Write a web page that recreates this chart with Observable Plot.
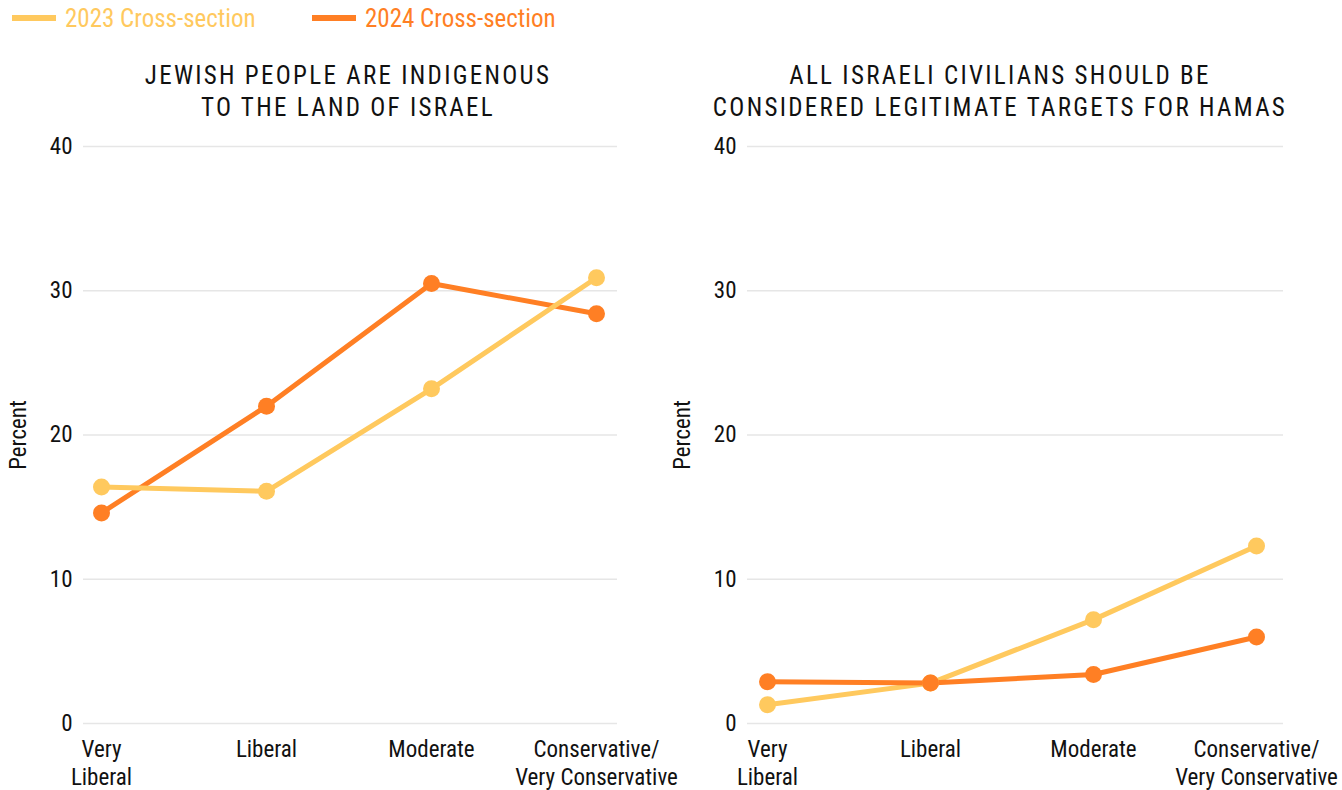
<!DOCTYPE html>
<html>
<head>
<meta charset="utf-8">
<script src="https://cdn.jsdelivr.net/npm/d3@7"></script>
<script src="https://cdn.jsdelivr.net/npm/@observablehq/plot@0.6"></script>
<style>
  html, body { margin: 0; padding: 0; background: #fff; }
  body { width: 1342px; height: 790px; position: relative; overflow: hidden;
         font-family: "Roboto Condensed", Roboto, sans-serif; font-stretch: 75%; color: #111; }
  .legend-item { position: absolute; top: 0; height: 36px; display: flex; align-items: center; font-size: 25px; }
  .swatch { width: 44px; height: 6px; margin-right: 9px; }
  .title { position: absolute; top: 60px; width: 700px; text-align: center; font-size: 25px;
           line-height: 32px; letter-spacing: 2.3px; text-transform: uppercase; color: #111; }
  .chart { position: absolute; top: 130px; }
</style>
</head>
<body>
<div id="root"></div>
<script>
// ---- data ----
const categories = ["Very Liberal", "Liberal", "Moderate", "Conservative/Very Conservative"];
const tickLabels = ["Very\nLiberal", "Liberal", "Moderate", "Conservative/\nVery Conservative"];
const seriesNames = ["2023 Cross-section", "2024 Cross-section"];
const seriesColors = ["#FFC95E", "#FF7F24"];
const panelTitles = ["Jewish people are indigenous\nto the land of Israel",
                     "All Israeli civilians should be\nconsidered legitimate targets for Hamas"];
const indigenous2023 = [16.4, 16.1, 23.2, 30.9];
const indigenous2024 = [14.6, 22.0, 30.5, 28.4];
const targets2023 = [1.3, 2.8, 7.2, 12.3];
const targets2024 = [2.9, 2.8, 3.4, 6.0];
const yTicks = [0, 10, 20, 30, 40];
const yLabel = "Percent";

// ---- layout ----
const FONT = '"Roboto Condensed", Roboto, sans-serif';
const root = document.getElementById("root");

// legend
const legendX = [12, 312];
seriesNames.forEach((s, i) => {
  const item = document.createElement("div");
  item.className = "legend-item";
  item.style.left = legendX[i] + "px";
  item.style.color = seriesColors[i];
  const sw = document.createElement("div");
  sw.className = "swatch";
  sw.style.background = seriesColors[i];
  item.appendChild(sw);
  const t = document.createElement("span");
  t.textContent = s;
  item.appendChild(t);
  root.appendChild(item);
});

const panels = [
  {title: panelTitles[0], values: [indigenous2023, indigenous2024], left: 0, marginRight: 54,
   insetLeft: 17, insetRight: 21, titleCenter: 348, order: [1, 0]},
  {title: panelTitles[1], values: [targets2023, targets2024], left: 664, marginRight: 52,
   insetLeft: 19, insetRight: 27, titleCenter: 1000, order: [0, 1]}
];

panels.forEach(p => {
  const title = document.createElement("div");
  title.className = "title";
  title.style.left = (p.titleCenter - 350) + "px";
  title.innerHTML = p.title.split("\n").join("<br>");
  root.appendChild(title);

  const rows = [];
  p.values.forEach((vals, si) => {
    vals.forEach((v, ci) => rows.push({category: categories[ci], value: v, series: seriesNames[si]}));
  });
  const bySeries = si => rows.filter(d => d.series === seriesNames[si]);

  const chart = Plot.plot({
    width: 671,
    height: 660,
    marginLeft: 83,
    marginRight: p.marginRight,
    marginTop: 16,
    marginBottom: 67,
    style: {fontFamily: FONT, fontSize: "23px", color: "#111", background: "transparent", overflow: "visible"},
    x: {type: "point", domain: categories, padding: 0, insetLeft: p.insetLeft, insetRight: p.insetRight},
    y: {domain: [0, 40]},
    color: {domain: seriesNames, range: seriesColors},
    marks: [
      Plot.gridY(yTicks, {stroke: "#e6e6e6", strokeOpacity: 1, strokeWidth: 1.5}),
      Plot.axisY(yTicks, {tickSize: 0, tickPadding: 11, fontSize: 23, label: null}),
      Plot.text([yLabel], {frameAnchor: "left", textAnchor: "middle", rotate: -90, dx: -65, fontSize: 23, fill: "#111"}),
      Plot.axisX({tickSize: 0, tickPadding: 14, fontSize: 23, lineHeight: 1.22, label: null,
                  tickFormat: d => tickLabels[categories.indexOf(d)]}),
      ...p.order.map(si => Plot.line(bySeries(si), {x: "category", y: "value", stroke: "series", strokeWidth: 5})),
      ...p.order.map(si => Plot.dot(bySeries(si), {x: "category", y: "value", fill: "series", r: 8.5}))
    ]
  });
  chart.classList.add("chart");
  chart.style.left = p.left + "px";
  root.appendChild(chart);
});
</script>
</body>
</html>
